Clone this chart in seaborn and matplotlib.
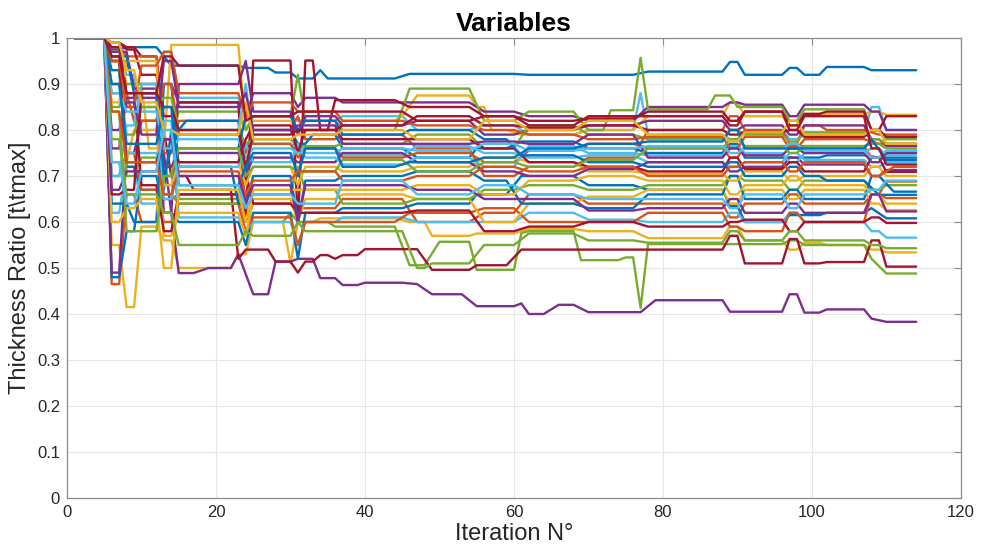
import pandas as pd
import matplotlib
matplotlib.use("Agg")
import matplotlib.pyplot as plt
import seaborn as sns

# MATLAB default colour order
blue, orange, yellow, purple, green, cyan, red = (
    "#0072BD", "#D95319", "#EDB120", "#7E2F8E", "#77AC30", "#4DBEEE", "#A2142F")

# every variable starts at 1 for iterations 1-5
start_hold = (1, 5, 1.0)

# each variable: list of holds (first iteration, last iteration, thickness ratio)
b1 = [(6, 7, 0.975), (8, 12, 0.98), (13, 13, 0.96), (14, 23, 0.94), (24, 27, 0.935), (28, 30, 0.925),
      (31, 33, 0.912), (34, 34, 0.93), (35, 44, 0.912), (46, 60, 0.922), (62, 76, 0.92), (78, 88, 0.927),
      (89, 90, 0.948), (91, 96, 0.92), (97, 98, 0.935), (99, 101, 0.92), (102, 107, 0.937), (108, 114, 0.93)]
o1 = [(6, 7, 0.465), (8, 9, 0.66), (10, 12, 0.6), (13, 14, 0.65), (15, 23, 0.66), (24, 24, 0.6), (25, 30, 0.64),
      (31, 36, 0.63), (37, 45, 0.65), (47, 54, 0.6), (56, 60, 0.62), (62, 68, 0.66), (70, 76, 0.64), (78, 88, 0.64),
      (89, 90, 0.61), (91, 96, 0.64), (97, 98, 0.66), (99, 107, 0.64), (108, 109, 0.66), (110, 114, 0.652)]
y1 = [(6, 7, 0.55), (8, 9, 0.415), (10, 12, 0.59), (13, 14, 0.56), (15, 22, 0.5), (23, 24, 0.53), (25, 29, 0.6),
      (30, 30, 0.51), (31, 33, 0.6), (34, 44, 0.608), (46, 48, 0.6), (49, 54, 0.57), (55, 60, 0.575), (62, 68, 0.585),
      (70, 76, 0.58), (78, 88, 0.565), (89, 90, 0.59), (91, 96, 0.56), (97, 98, 0.54), (99, 101, 0.555),
      (102, 107, 0.55), (108, 109, 0.54), (110, 114, 0.534)]
p1 = [(6, 8, 0.95), (9, 12, 0.9), (13, 13, 0.75), (15, 17, 0.489), (19, 22, 0.5), (23, 23, 0.53), (25, 27, 0.443),
      (28, 30, 0.514), (31, 33, 0.52), (34, 36, 0.478), (37, 39, 0.463), (40, 45, 0.468), (47, 47, 0.465),
      (49, 53, 0.443), (55, 60, 0.417), (61, 61, 0.423), (62, 64, 0.40), (66, 68, 0.42), (70, 77, 0.404),
      (79, 88, 0.43), (89, 96, 0.405), (97, 98, 0.443), (99, 101, 0.403), (102, 107, 0.41), (108, 108, 0.39),
      (110, 114, 0.383)]
g1 = [(6, 7, 0.9), (8, 12, 0.85), (13, 14, 0.7), (15, 23, 0.65), (25, 29, 0.6), (30, 30, 0.62), (31, 35, 0.6),
      (36, 44, 0.59), (46, 48, 0.506), (50, 54, 0.557), (55, 60, 0.496), (61, 61, 0.576), (62, 68, 0.58),
      (69, 74, 0.517), (75, 76, 0.523), (77, 77, 0.413), (78, 96, 0.552), (97, 98, 0.56), (99, 107, 0.55),
      (108, 108, 0.52), (110, 114, 0.488)]
c1 = [(6, 7, 0.96), (8, 9, 0.92), (10, 12, 0.8), (13, 14, 0.97), (15, 23, 0.87), (24, 24, 0.82), (25, 30, 0.83),
      (31, 36, 0.82), (37, 45, 0.83), (47, 54, 0.8), (56, 60, 0.81), (62, 68, 0.79), (70, 76, 0.8), (77, 77, 0.88),
      (78, 88, 0.79), (89, 90, 0.78), (91, 96, 0.8), (97, 98, 0.78), (99, 107, 0.79), (108, 109, 0.85),
      (110, 114, 0.8)]
r1 = [(6, 7, 0.99), (8, 9, 0.98), (10, 12, 0.96), (13, 13, 0.8), (14, 16, 0.7), (17, 22, 0.67), (23, 23, 0.52),
      (24, 27, 0.54), (28, 30, 0.514), (31, 31, 0.49), (32, 33, 0.514), (34, 35, 0.528), (36, 36, 0.52),
      (37, 39, 0.528), (40, 47, 0.541), (49, 54, 0.496), (55, 59, 0.506), (61, 73, 0.54), (75, 88, 0.54),
      (89, 90, 0.57), (91, 96, 0.51), (97, 98, 0.563), (99, 101, 0.51), (102, 107, 0.513), (108, 109, 0.56),
      (110, 114, 0.503)]

b2 = [(6, 7, 0.48), (8, 9, 0.58), (10, 12, 0.7), (13, 14, 0.62), (15, 23, 0.6), (24, 24, 0.55), (25, 30, 0.62),
      (31, 31, 0.52), (32, 36, 0.62), (37, 45, 0.63), (47, 54, 0.64), (55, 59, 0.66), (61, 68, 0.7), (70, 76, 0.68),
      (78, 88, 0.67), (89, 90, 0.635), (91, 96, 0.6), (97, 101, 0.615), (102, 107, 0.62), (108, 108, 0.63),
      (110, 114, 0.608)]
o2 = [(6, 7, 0.98), (8, 12, 0.96), (13, 14, 0.75), (15, 23, 0.82), (24, 24, 0.75), (25, 30, 0.8), (31, 31, 0.83),
      (32, 36, 0.78), (37, 45, 0.79), (47, 54, 0.76), (56, 60, 0.7), (62, 68, 0.72), (70, 76, 0.74), (78, 88, 0.8),
      (89, 90, 0.83), (91, 96, 0.8), (97, 98, 0.77), (99, 101, 0.81), (102, 107, 0.8), (109, 114, 0.79)]
y2 = [(6, 7, 0.97), (8, 10, 0.9), (11, 13, 0.76), (14, 23, 0.985), (24, 24, 0.8), (25, 30, 0.82), (31, 36, 0.8),
      (37, 44, 0.82), (45, 45, 0.83), (47, 54, 0.875), (55, 56, 0.85), (57, 59, 0.8), (61, 68, 0.79), (70, 76, 0.8),
      (78, 88, 0.83), (89, 90, 0.86), (91, 96, 0.83), (97, 98, 0.81), (99, 107, 0.835), (108, 109, 0.84),
      (110, 114, 0.833)]
p2 = [(6, 7, 0.49), (8, 9, 0.75), (10, 12, 0.82), (13, 14, 0.9), (15, 23, 0.86), (24, 24, 0.83), (25, 30, 0.88),
      (31, 31, 0.85), (32, 36, 0.87), (37, 45, 0.86), (47, 54, 0.86), (56, 60, 0.84), (62, 68, 0.83), (70, 76, 0.82),
      (78, 88, 0.85), (89, 90, 0.86), (91, 96, 0.855), (97, 98, 0.83), (99, 107, 0.855), (108, 109, 0.84),
      (110, 114, 0.80)]
g2 = [(6, 7, 0.85), (8, 12, 0.9), (13, 14, 0.78), (15, 23, 0.84), (24, 24, 0.8), (25, 30, 0.83), (31, 31, 0.92),
      (32, 36, 0.82), (37, 44, 0.8), (46, 54, 0.89), (56, 60, 0.82), (62, 68, 0.84), (70, 72, 0.8), (73, 76, 0.843),
      (77, 77, 0.957), (78, 86, 0.845), (87, 89, 0.875), (90, 96, 0.85), (97, 98, 0.82), (99, 107, 0.845),
      (108, 109, 0.8), (110, 114, 0.78)]
c2 = [(6, 7, 0.62), (8, 9, 0.72), (10, 12, 0.64), (13, 14, 0.82), (15, 23, 0.61), (24, 24, 0.58), (25, 30, 0.6),
      (31, 31, 0.55), (32, 36, 0.6), (37, 45, 0.61), (47, 54, 0.6), (56, 60, 0.6), (62, 68, 0.62), (70, 76, 0.605),
      (78, 88, 0.6), (89, 90, 0.62), (91, 96, 0.6), (97, 98, 0.62), (99, 107, 0.6), (108, 109, 0.58),
      (110, 114, 0.566)]
r2 = [(6, 7, 0.99), (8, 9, 0.975), (10, 12, 0.92), (13, 14, 0.83), (15, 23, 0.86), (24, 24, 0.6), (25, 30, 0.951),
      (31, 31, 0.6), (32, 33, 0.951), (34, 35, 0.8), (36, 44, 0.865), (46, 54, 0.85), (56, 60, 0.83), (62, 68, 0.82),
      (70, 76, 0.825), (78, 88, 0.84), (89, 90, 0.82), (91, 96, 0.84), (97, 98, 0.81), (99, 101, 0.835),
      (102, 107, 0.84), (108, 109, 0.8), (110, 114, 0.83)]

b3 = [(6, 7, 0.93), (8, 9, 0.72), (10, 13, 0.67), (14, 15, 0.8), (16, 23, 0.82), (24, 24, 0.7), (25, 30, 0.8),
      (31, 32, 0.77), (33, 36, 0.79), (37, 45, 0.76), (47, 54, 0.74), (55, 59, 0.76), (61, 68, 0.775),
      (70, 76, 0.76), (78, 88, 0.75), (89, 90, 0.77), (91, 101, 0.74), (102, 107, 0.745), (109, 114, 0.74)]
o3 = [(6, 7, 0.7), (8, 9, 0.75), (10, 12, 0.67), (13, 14, 0.6), (15, 23, 0.64), (24, 24, 0.58), (25, 30, 0.61),
      (31, 31, 0.55), (32, 36, 0.6), (37, 44, 0.6), (46, 54, 0.62), (56, 60, 0.63), (62, 68, 0.6), (70, 76, 0.6),
      (78, 88, 0.62), (89, 90, 0.59), (91, 96, 0.58), (97, 98, 0.62), (99, 107, 0.6), (108, 109, 0.66),
      (110, 114, 0.688)]
y3 = [(6, 8, 0.73), (9, 12, 0.8), (13, 14, 0.57), (15, 23, 0.62), (24, 24, 0.57), (25, 30, 0.65), (31, 31, 0.6),
      (32, 36, 0.65), (37, 45, 0.66), (47, 54, 0.65), (56, 60, 0.6), (62, 68, 0.64), (70, 76, 0.655), (78, 88, 0.67),
      (89, 90, 0.64), (91, 96, 0.67), (97, 98, 0.65), (99, 107, 0.67), (108, 109, 0.64), (110, 114, 0.626)]
p3 = [(6, 8, 0.97), (9, 12, 0.89), (13, 14, 0.62), (15, 23, 0.9), (24, 24, 0.95), (25, 30, 0.84), (31, 31, 0.79),
      (32, 36, 0.83), (37, 45, 0.81), (47, 54, 0.82), (56, 60, 0.79), (62, 68, 0.8), (70, 76, 0.81), (78, 88, 0.82),
      (89, 90, 0.8), (91, 96, 0.81), (97, 98, 0.79), (99, 107, 0.81), (108, 109, 0.78), (110, 114, 0.765)]
g3 = [(6, 7, 0.95), (8, 9, 0.7), (10, 12, 0.74), (13, 14, 0.66), (15, 23, 0.64), (24, 24, 0.7), (25, 30, 0.66),
      (31, 31, 0.72), (32, 36, 0.67), (37, 45, 0.64), (47, 54, 0.65), (56, 60, 0.67), (62, 68, 0.68), (70, 76, 0.67),
      (78, 88, 0.68), (89, 90, 0.7), (91, 96, 0.69), (97, 98, 0.67), (99, 107, 0.69), (108, 109, 0.67),
      (110, 114, 0.68)]
c3 = [(6, 7, 0.99), (8, 12, 0.75), (13, 14, 0.7), (15, 23, 0.8), (24, 24, 0.9), (25, 30, 0.77), (31, 36, 0.76),
      (37, 45, 0.745), (47, 54, 0.765), (56, 60, 0.75), (62, 68, 0.74), (70, 76, 0.745), (78, 88, 0.73),
      (89, 90, 0.72), (91, 96, 0.73), (97, 98, 0.75), (99, 107, 0.735), (108, 109, 0.72), (110, 114, 0.73)]
r3 = [(6, 7, 0.98), (8, 9, 0.88), (10, 12, 0.68), (13, 14, 0.58), (15, 23, 0.66), (24, 24, 0.7), (25, 30, 0.64),
      (31, 36, 0.62), (37, 45, 0.62), (47, 54, 0.625), (56, 60, 0.58), (62, 68, 0.59), (70, 76, 0.6), (78, 88, 0.59),
      (89, 90, 0.6), (91, 96, 0.605), (97, 98, 0.58), (99, 107, 0.6), (108, 109, 0.61), (110, 114, 0.598)]

b4 = [(6, 8, 0.64), (9, 12, 0.6), (13, 14, 0.9), (15, 22, 0.72), (23, 24, 0.64), (25, 30, 0.7), (31, 31, 0.6),
      (32, 36, 0.69), (37, 45, 0.7), (47, 54, 0.71), (56, 59, 0.69), (61, 68, 0.64), (70, 76, 0.63), (78, 88, 0.66),
      (89, 90, 0.7), (91, 96, 0.65), (97, 98, 0.67), (99, 107, 0.65), (108, 109, 0.7), (111, 114, 0.666)]
o4 = [(6, 8, 0.88), (9, 12, 0.82), (13, 14, 0.9), (15, 23, 0.79), (24, 30, 0.77), (31, 31, 0.74), (32, 36, 0.76),
      (37, 45, 0.74), (47, 54, 0.75), (56, 60, 0.73), (62, 68, 0.755), (70, 76, 0.77), (78, 88, 0.76),
      (89, 90, 0.74), (91, 107, 0.765), (108, 109, 0.74), (111, 114, 0.755)]
y4 = [(6, 7, 0.86), (8, 12, 0.95), (13, 14, 0.68), (15, 23, 0.73), (24, 24, 0.68), (25, 30, 0.72), (31, 31, 0.68),
      (32, 36, 0.72), (37, 45, 0.71), (47, 54, 0.72), (56, 60, 0.74), (62, 68, 0.73), (70, 76, 0.71),
      (78, 88, 0.705), (89, 90, 0.69), (91, 96, 0.71), (97, 98, 0.69), (99, 107, 0.7), (108, 109, 0.72),
      (110, 114, 0.70)]
p4 = [(6, 7, 0.76), (8, 12, 0.87), (13, 14, 0.72), (15, 23, 0.75), (24, 24, 0.7), (25, 30, 0.74), (31, 36, 0.73),
      (37, 45, 0.75), (47, 54, 0.73), (56, 60, 0.71), (62, 68, 0.7), (70, 76, 0.715), (78, 88, 0.73), (89, 90, 0.71),
      (91, 96, 0.72), (97, 98, 0.74), (99, 107, 0.725), (108, 109, 0.70), (110, 114, 0.713)]
g4 = [(6, 7, 0.9), (8, 9, 0.79), (10, 12, 0.85), (13, 14, 0.87), (15, 23, 0.8), (24, 24, 0.77), (25, 30, 0.78),
      (31, 36, 0.765), (37, 45, 0.77), (47, 54, 0.79), (56, 60, 0.76), (62, 68, 0.81), (70, 76, 0.79), (78, 88, 0.78),
      (89, 90, 0.8), (91, 96, 0.79), (97, 98, 0.775), (99, 107, 0.795), (108, 109, 0.78), (110, 114, 0.77)]
c4 = [(6, 7, 0.7), (8, 9, 0.81), (10, 12, 0.9), (13, 14, 0.65), (15, 23, 0.72), (24, 24, 0.77), (25, 30, 0.73),
      (31, 31, 0.77), (32, 36, 0.74), (37, 45, 0.725), (47, 54, 0.74), (56, 60, 0.72), (62, 68, 0.765),
      (70, 76, 0.75), (78, 88, 0.745), (89, 90, 0.765), (91, 96, 0.75), (97, 98, 0.73), (99, 107, 0.75),
      (108, 109, 0.76), (110, 114, 0.745)]
r4 = [(6, 7, 0.95), (8, 12, 0.73), (13, 14, 0.78), (15, 23, 0.73), (24, 24, 0.78), (25, 30, 0.81), (31, 31, 0.75),
      (32, 36, 0.8), (37, 45, 0.78), (47, 54, 0.78), (56, 60, 0.76), (62, 68, 0.73), (70, 76, 0.72), (78, 88, 0.71),
      (89, 90, 0.74), (91, 96, 0.715), (97, 98, 0.73), (99, 107, 0.71), (108, 109, 0.74), (110, 114, 0.709)]

b5 = [(6, 8, 0.96), (9, 12, 0.88), (13, 13, 0.7), (14, 23, 0.76), (24, 30, 0.83), (31, 31, 0.8), (32, 36, 0.82),
      (37, 45, 0.79), (46, 54, 0.8), (56, 59, 0.78), (61, 68, 0.745), (70, 76, 0.73), (78, 88, 0.72), (89, 90, 0.73),
      (91, 96, 0.7), (97, 98, 0.72), (99, 101, 0.7), (102, 107, 0.69), (109, 114, 0.659)]
o5 = [(6, 7, 0.95), (8, 9, 0.85), (10, 12, 0.94), (13, 14, 0.97), (15, 23, 0.88), (24, 24, 0.83), (25, 30, 0.86),
      (31, 36, 0.84), (37, 45, 0.82), (47, 54, 0.81), (56, 60, 0.8), (62, 68, 0.79), (70, 76, 0.78), (78, 88, 0.785),
      (89, 90, 0.76), (91, 96, 0.785), (97, 98, 0.76), (99, 107, 0.78), (109, 114, 0.77)]
y5 = [(6, 7, 0.6), (8, 9, 0.63), (10, 12, 0.65), (13, 14, 0.5), (15, 23, 0.67), (24, 24, 0.6), (25, 30, 0.67),
      (31, 36, 0.67), (37, 45, 0.67), (47, 54, 0.68), (56, 60, 0.66), (62, 68, 0.69), (70, 76, 0.7), (78, 88, 0.69),
      (89, 90, 0.66), (91, 96, 0.68), (97, 98, 0.7), (99, 107, 0.68), (108, 109, 0.66), (110, 114, 0.64)]
p5 = [(6, 7, 0.8), (8, 9, 0.86), (10, 12, 0.79), (13, 14, 0.95), (15, 23, 0.85), (24, 24, 0.88), (25, 30, 0.8),
      (31, 36, 0.81), (37, 45, 0.77), (47, 54, 0.77), (56, 60, 0.775), (62, 68, 0.77), (70, 76, 0.79),
      (78, 88, 0.74), (89, 90, 0.76), (91, 96, 0.745), (97, 98, 0.76), (99, 107, 0.75), (108, 109, 0.73),
      (110, 114, 0.75)]
g5 = [(6, 7, 0.84), (8, 12, 0.58), (13, 14, 0.7), (15, 23, 0.76), (24, 24, 0.7), (25, 30, 0.72), (31, 36, 0.71),
      (37, 45, 0.735), (47, 54, 0.71), (56, 60, 0.73), (62, 68, 0.72), (70, 76, 0.735), (78, 88, 0.76),
      (89, 90, 0.78), (91, 96, 0.765), (97, 98, 0.75), (99, 107, 0.765), (108, 109, 0.77), (110, 114, 0.76)]
c5 = [(6, 7, 0.88), (8, 12, 0.84), (13, 14, 0.76), (15, 23, 0.78), (24, 24, 0.74), (25, 30, 0.76), (31, 36, 0.75),
      (37, 45, 0.76), (47, 54, 0.755), (56, 60, 0.77), (62, 68, 0.755), (70, 76, 0.76), (78, 88, 0.765),
      (89, 90, 0.75), (91, 96, 0.76), (97, 98, 0.77), (99, 107, 0.755), (108, 109, 0.74), (110, 114, 0.755)]
r5 = [(6, 7, 0.66), (8, 9, 0.67), (10, 12, 0.88), (13, 14, 0.85), (15, 23, 0.8), (24, 24, 0.72), (25, 30, 0.79),
      (31, 36, 0.8), (37, 45, 0.81), (47, 54, 0.83), (56, 60, 0.81), (62, 68, 0.805), (70, 76, 0.81), (78, 88, 0.8),
      (89, 90, 0.79), (91, 96, 0.795), (97, 98, 0.8), (99, 107, 0.785), (108, 109, 0.8), (110, 114, 0.785)]

b6 = [(6, 7, 0.9), (8, 12, 0.77), (13, 14, 0.85), (15, 23, 0.68), (24, 24, 0.72), (25, 30, 0.75), (31, 31, 0.7),
      (32, 36, 0.76), (37, 44, 0.72), (46, 54, 0.73), (56, 60, 0.74), (62, 68, 0.76), (70, 76, 0.77),
      (78, 88, 0.775), (89, 90, 0.8), (91, 107, 0.76), (108, 108, 0.78), (110, 114, 0.735)]
o6 = [(6, 7, 0.84), (8, 12, 0.73), (13, 14, 0.66), (15, 23, 0.71), (24, 24, 0.66), (25, 30, 0.69), (31, 36, 0.71),
      (37, 45, 0.69), (47, 54, 0.7), (56, 60, 0.72), (62, 68, 0.71), (70, 76, 0.72), (78, 88, 0.7), (89, 90, 0.72),
      (91, 96, 0.73), (97, 98, 0.71), (99, 107, 0.73), (108, 109, 0.7), (111, 114, 0.72)]
y6 = [(6, 7, 0.99), (8, 9, 0.93), (10, 12, 0.86), (13, 14, 0.8), (15, 23, 0.79), (24, 24, 0.86), (25, 30, 0.78),
      (31, 36, 0.79), (37, 45, 0.8), (47, 54, 0.78), (56, 60, 0.82), (62, 68, 0.8), (70, 76, 0.82), (78, 88, 0.79),
      (89, 90, 0.775), (91, 96, 0.795), (97, 98, 0.82), (99, 107, 0.79), (108, 109, 0.8), (110, 114, 0.77)]
p6 = [(6, 7, 0.67), (8, 12, 0.71), (13, 14, 0.78), (15, 23, 0.7), (24, 24, 0.64), (25, 30, 0.68), (31, 31, 0.6),
      (32, 36, 0.68), (37, 45, 0.68), (47, 54, 0.67), (56, 60, 0.65), (62, 68, 0.65), (70, 76, 0.625),
      (78, 88, 0.63), (89, 90, 0.65), (91, 96, 0.62), (97, 98, 0.64), (99, 107, 0.62), (108, 109, 0.66),
      (110, 114, 0.623)]
g6 = [(6, 7, 0.78), (8, 12, 0.66), (13, 14, 0.62), (15, 23, 0.55), (24, 24, 0.58), (25, 30, 0.57), (31, 31, 0.6),
      (32, 36, 0.58), (37, 45, 0.58), (47, 48, 0.5), (49, 54, 0.51), (56, 60, 0.55), (62, 68, 0.575),
      (70, 76, 0.56), (78, 88, 0.555), (89, 90, 0.58), (91, 96, 0.56), (97, 98, 0.58), (99, 107, 0.56),
      (108, 109, 0.55), (110, 114, 0.543)]
c6 = [(6, 7, 0.73), (8, 9, 0.64), (10, 12, 0.71), (13, 14, 0.8), (15, 23, 0.68), (24, 24, 0.63), (25, 30, 0.66),
      (31, 36, 0.64), (37, 45, 0.69), (47, 54, 0.66), (56, 60, 0.68), (62, 68, 0.66), (70, 76, 0.65), (78, 88, 0.65),
      (89, 90, 0.63), (91, 96, 0.66), (97, 98, 0.63), (99, 107, 0.66), (108, 109, 0.67), (110, 114, 0.69)]
r6 = [(6, 7, 0.96), (8, 12, 0.88), (13, 14, 0.96), (15, 23, 0.94), (24, 24, 0.82), (25, 30, 0.83), (31, 36, 0.84),
      (37, 45, 0.84), (47, 54, 0.82), (56, 60, 0.83), (62, 68, 0.81), (70, 76, 0.83), (78, 88, 0.83), (89, 90, 0.81),
      (91, 96, 0.84), (97, 98, 0.8), (99, 107, 0.83), (108, 109, 0.76), (110, 114, 0.725)]

variables = [b1, o1, y1, p1, g1, c1, r1,
             b2, o2, y2, p2, g2, c2, r2,
             b3, o3, y3, p3, g3, c3, r3,
             b4, o4, y4, p4, g4, c4, r4,
             b5, o5, y5, p5, g5, c5, r5,
             b6, o6, y6, p6, g6, c6, r6]
color_order = [blue, orange, yellow, purple, green, cyan, red]

# long table: one row per recorded point
rows = []
for i, holds in enumerate(variables):
    for first, last, value in [start_hold] + holds:
        rows.append((f"v{i + 1:02d}", first, value))
        if last != first:
            rows.append((f"v{i + 1:02d}", last, value))
df = pd.DataFrame(rows, columns=["variable", "iteration", "ratio"])
palette = {f"v{i + 1:02d}": color_order[i % 7] for i in range(len(variables))}

sns.set_style("whitegrid")
plt.rcParams["font.family"] = ["Liberation Sans", "DejaVu Sans"]

fig = plt.figure(figsize=(9.91, 5.58), dpi=100)
ax = fig.add_axes([0.0676, 0.1075, 0.902, 0.8244])
sns.lineplot(data=df, x="iteration", y="ratio", hue="variable", palette=palette,
             estimator=None, legend=False, linewidth=1.7, ax=ax)

ax.set_xlim(0, 120)
ax.set_ylim(0, 1)
ax.set_xticks(range(0, 121, 20))
ax.set_yticks([i / 10 for i in range(11)])
ax.set_yticklabels(["0", "0.1", "0.2", "0.3", "0.4", "0.5", "0.6", "0.7", "0.8", "0.9", "1"])
ax.grid(True, color="#e6e6e6", linewidth=0.8)
for side in ax.spines.values():
    side.set_color("#8c8c8c")
    side.set_linewidth(0.9)
ax.tick_params(axis="both", direction="in", length=5, color="#8c8c8c", labelsize=12,
               labelcolor="#262626", top=True, right=True, pad=5)

ax.set_title("Variables", fontsize=19, fontweight="bold", color="#000000", pad=5)
ax.set_xlabel("Iteration N°", fontsize=17, color="#262626", labelpad=2)
ax.set_ylabel("Thickness Ratio [t\\tmax]", fontsize=17, color="#262626", labelpad=4)

fig.savefig("out.png", dpi=100, facecolor="white")
